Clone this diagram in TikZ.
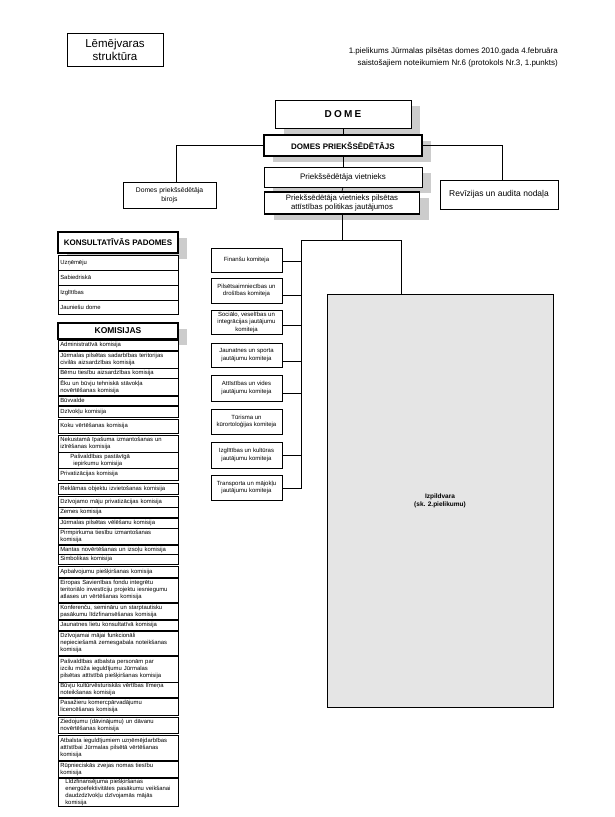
\documentclass[tikz,border=0pt]{standalone}
\usepackage{fontspec}
\setmainfont{Liberation Sans}
\usepackage{tikz}
\usetikzlibrary{positioning,shadows}
\tikzset{
  kaste/.style    = {draw, fill=white, line width=0.6pt, align=center, inner sep=1pt},
  biezs/.style    = {kaste, line width=1.5pt},
  ena/.style      = {drop shadow={shadow xshift=9pt, shadow yshift=-6pt, fill=black!20, opacity=1}},
  komiteja/.style = {kaste, font=\fontsize{6}{7.5}\selectfont, minimum width=71pt},
  rinda/.style    = {draw, fill=white, line width=0.6pt, anchor=north west, align=left, text width=116pt,
                     inner xsep=2pt, inner ysep=0pt, font=\fontsize{5.9}{7.1}\selectfont},
  linija/.style   = {line width=0.7pt}
}

\begin{document}
\begin{tikzpicture}[x=1pt, y=-1pt]
  \useasboundingbox (0,0) rectangle (615,817);

  \node[kaste, font=\fontsize{11.5}{13}\selectfont, minimum width=96pt, minimum height=33pt] (nosaukums) at (115,49.5) {Lēmējvaras\\struktūra};
  \node[align=right, anchor=north east, inner sep=0pt, font=\fontsize{8}{11.5}\selectfont] (piezime) at (558,48)
    {1.pielikums Jūrmalas pilsētas domes 2010.gada 4.februāra\\saistošajiem noteikumiem Nr.6 (protokols Nr.3, 1.punkts)};

  \node[kaste, ena, minimum width=136pt, minimum height=28pt, font=\fontsize{10}{12}\selectfont\bfseries\addfontfeature{LetterSpace=22}] (dome) at (343,114) {DOME};
  \node[biezs, ena, minimum width=158pt, minimum height=21pt, font=\fontsize{8}{10}\selectfont\bfseries] (pr) at (343,145.5) {DOMES PRIEKŠSĒDĒTĀJS};
  \node[kaste, ena, minimum width=158pt, minimum height=20pt, font=\fontsize{8}{10}\selectfont] (viet) at (343,177) {Priekšsēdētāja vietnieks};
  \node[biezs, ena, minimum width=155pt, minimum height=22pt, font=\fontsize{7.8}{9}\selectfont] (viet2) at (342,203)
    {Priekšsēdētāja vietnieks pilsētas\\attīstības politikas jautājumos};

  \node[kaste, minimum width=93pt, minimum height=26pt, font=\fontsize{6.8}{9}\selectfont] (birojs) at (169.5,195) {Domes priekšsēdētāja\\birojs};
  \node[kaste, minimum width=118pt, minimum height=29pt, font=\fontsize{8.5}{10}\selectfont] (reviz) at (499,194.5) {Revīzijas un audita nodaļa};

  \draw[linija] (dome.south) -- (pr.north);
  \draw[linija] (pr.south) -- (viet.north);
  \draw[linija] (viet.south) -- (viet2.north);
  \draw[linija] (pr.west) -| ([xshift=7pt]birojs.north);
  \draw[linija] (pr.east) -| ([xshift=3pt]reviz.north);

  \node[kaste, minimum width=71pt, minimum height=24pt, font=\fontsize{6}{7.5}\selectfont] (kom1) at (246.5,260) {Finanšu komiteja};
  \node[komiteja, minimum height=25pt] (kom2) at (246.5,290.5) {Pilsētsaimniecības un\\drošības komiteja};
  \node[komiteja, minimum height=24pt] (kom3) at (246.5,322) {Sociālo, veselības un\\integrācijas jautājumu\\komiteja};
  \node[komiteja, minimum height=24pt] (kom4) at (246.5,355) {Jaunatnes un sporta\\jautājumu komiteja};
  \node[komiteja, minimum height=26pt] (kom5) at (246.5,388) {Attīstības un vides\\jautājumu komiteja};
  \node[komiteja, minimum height=25pt] (kom6) at (246.5,421.5) {Tūrisma un\\kūrortoloģijas komiteja};
  \node[komiteja, minimum height=26pt] (kom7) at (246.5,455) {Izglītības un kultūras\\jautājumu komiteja};
  \node[komiteja, minimum height=25pt] (kom8) at (246.5,487.5) {Transporta un mājokļu\\jautājumu komiteja};

  \node[kaste, fill=black!10, minimum width=226pt, minimum height=413pt, font=\fontsize{6.5}{8}\selectfont\bfseries] (izp) at (440,500.5)
    {Izpildvara\\(sk. 2.pielikumu)};

  \coordinate (busaugsa) at (301,240);
  \draw[linija] (viet2.south) -- (viet2.south |- busaugsa);
  \draw[linija] (busaugsa) -| ([xshift=-39pt]izp.north);
  \foreach \i/\d in {1/-1, 2/-4.5, 3/-3, 4/-6, 5/-5, 7/0, 8/-0.5}
    \draw[linija] ([yshift=\d pt]kom\i.east) -| (busaugsa);

  \node[biezs, ena, minimum width=120pt, minimum height=21pt, font=\fontsize{8}{10}\selectfont\bfseries] (konsult) at (118,242.5) {KONSULTATĪVĀS PADOMES};
  \foreach \i/\a/\b/\teksts in {1/255/270/{Uzņēmēju}, 2/270/285/{Sabiedriskā}, 3/285/300/{Izglītības}, 4/300/314/{Jauniešu dome}}{
    \pgfmathsetmacro{\augstums}{\b-\a}
    \node[rinda, minimum height=\augstums pt] (pad\i) at (58,\a) {\teksts};
  }

  \node[biezs, ena, minimum width=120pt, minimum height=16pt, font=\fontsize{8.5}{10}\selectfont\bfseries] (komis) at (118,331) {KOMISIJAS};
  \foreach \i/\a/\b/\teksts in {
      1/340/350/{Administratīvā komisija},
      2/351/368/{Jūrmalas pilsētas sadarbības teritorijas\\civilās aizsardzības komisija},
      3/368/378/{Bērnu tiesību aizsardzības komisija},
      4/378/395/{Ēku un būvju tehniskā stāvokļa\\novērtēšanas komisija},
      5/396/405/{Būvvalde},
      6/406/417/{Dzīvokļu komisija},
      7/419/433/{Koku vērtēšanas komisija},
      8/435/452/{Nekustamā īpašuma izmantošanas un\\izīrēšanas komisija},
      9/452/468/{\hspace*{10pt}Pašvaldības pastāvīgā\\\hspace*{13pt}iepirkumu komisija},
      10/468/480/{Privatizācijas komisija},
      11/483/494/{Reklāmas objektu izvietošanas komisija},
      12/496/507/{Dzīvojamo māju privatizācijas komisija},
      13/507/517/{Zemes komisija},
      14/518/528/{Jūrmalas pilsētas vēlēšanu komisija},
      15/528/544/{Pirmpirkuma tiesību izmantošanas\\komisija},
      16/545/554/{Mantas novērtēšanas un izsoļu komisija},
      17/554/564/{Simbolikas komisija},
      18/566/577/{Apbalvojumu piešķiršanas komisija},
      19/578/602/{Eiropas Savienības fondu integrētu\\teritoriālo investīciju projektu iesniegumu\\atlases un vērtēšanas komisija},
      20/603/619/{Konferenču, semināru un starptautisku\\pasākumu līdzfinansēšanas komisija},
      21/620/630/{Jaunatnes lietu konsultatīvā komisija},
      22/631/655/{Dzīvojamai mājai funkcionāli\\nepieciešamā zemesgabala noteikšanas\\komisija},
      23/656/682/{Pašvaldības atbalsta personām par\\izcilu mūža ieguldījumu Jūrmalas\\pilsētas attīstībā piešķiršanas komisija},
      24/682/697/{Būvju kultūrvēsturiskās vērtības līmeņa\\noteikšanas komisija},
      25/698/715/{Pasažieru komercpārvadājumu\\licencēšanas komisija},
      26/717/733/{Ziedojumu (dāvinājumu) un dāvanu\\novērtēšanas komisija},
      27/735/760/{Atbalsta ieguldījumiem uzņēmējdarbības\\attīstībai Jūrmalas pilsētā vērtēšanas\\komisija},
      28/761/777/{Rūpnieciskās zvejas nomas tiesību\\komisija},
      29/778/806/{\hspace*{5pt}Līdzfinansējuma piešķiršanas\\\hspace*{5pt}energoefektivitātes pasākumu veikšanai\\\hspace*{5pt}daudzdzīvokļu dzīvojamās mājās\\\hspace*{5pt}komisija}}{
    \pgfmathsetmacro{\augstums}{\b-\a}
    \node[rinda, minimum height=\augstums pt] (kom\i) at (58,\a) {\teksts};
  }
\end{tikzpicture}
\end{document}
